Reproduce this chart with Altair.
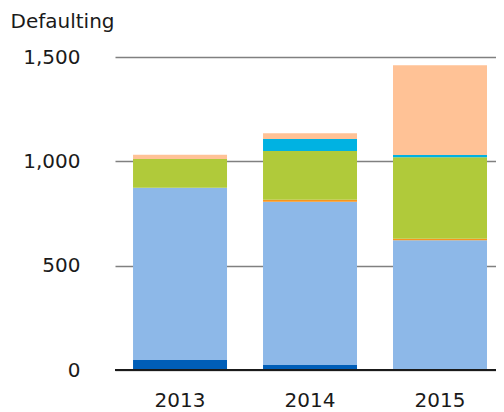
import altair as alt
import pandas as pd

years = ["2013", "2014", "2015"]
series = ["S1", "S2", "S3", "S4", "S5", "S6"]
colors = ["#005EB8", "#8DB8E8", "#F7941D", "#B0CA3A", "#00B2E2", "#FFC296"]
values = {
    "S1": [48, 24, 0],
    "S2": [825, 782, 622],
    "S3": [0, 10, 7],
    "S4": [138, 233, 391],
    "S5": [0, 58, 10],
    "S6": [20, 28, 431],
}

rows = []
for si, s in enumerate(series):
    for yi, y in enumerate(years):
        rows.append({"year": y, "series": s, "order": si, "value": values[s][yi]})
df = pd.DataFrame(rows)

FONT = "DejaVu Sans"
FS = 20

bars = alt.Chart(df).mark_bar().encode(
    x=alt.X("year:N", sort=years,
            scale=alt.Scale(paddingInner=0.277, paddingOuter=0.104, align=0.667),
            axis=alt.Axis(title=None, labelAngle=0, ticks=False, domain=False,
                          labelPadding=20, labelFontSize=FS, labelColor="#1a1a1a",
                          labelFont=FONT, grid=False)),
    y=alt.Y("value:Q", stack="zero",
            scale=alt.Scale(domain=[0, 1500], nice=False),
            axis=alt.Axis(title="Defaulting", titleAngle=0, titleAlign="left",
                          titleBaseline="alphabetic", titleX=-105, titleY=-30,
                          titleFont=FONT, titleFontSize=FS, titleFontWeight="normal",
                          titleColor="#1a1a1a",
                          values=[0, 500, 1000, 1500], format=",d",
                          ticks=False, domain=False, labelPadding=35,
                          labelFontSize=FS, labelFont=FONT, labelColor="#1a1a1a",
                          gridColor="#808080", gridWidth=1.5)),
    color=alt.Color("series:N", scale=alt.Scale(domain=series, range=colors), legend=None),
    order=alt.Order("order:Q"),
)

zero = alt.Chart(pd.DataFrame({"v": [0]})).mark_rule(color="#1a1a1a", strokeWidth=2).encode(
    y=alt.Y("v:Q")
)

chart = alt.layer(bars, zero).properties(
    width=381, height=313,
    autosize=alt.AutoSizeParams(type="none"),
    padding={"left": 107, "top": 49, "right": 0, "bottom": 42},
).configure_view(stroke=None)

chart.save("out.html", embed_options={"renderer": "svg", "actions": False})
